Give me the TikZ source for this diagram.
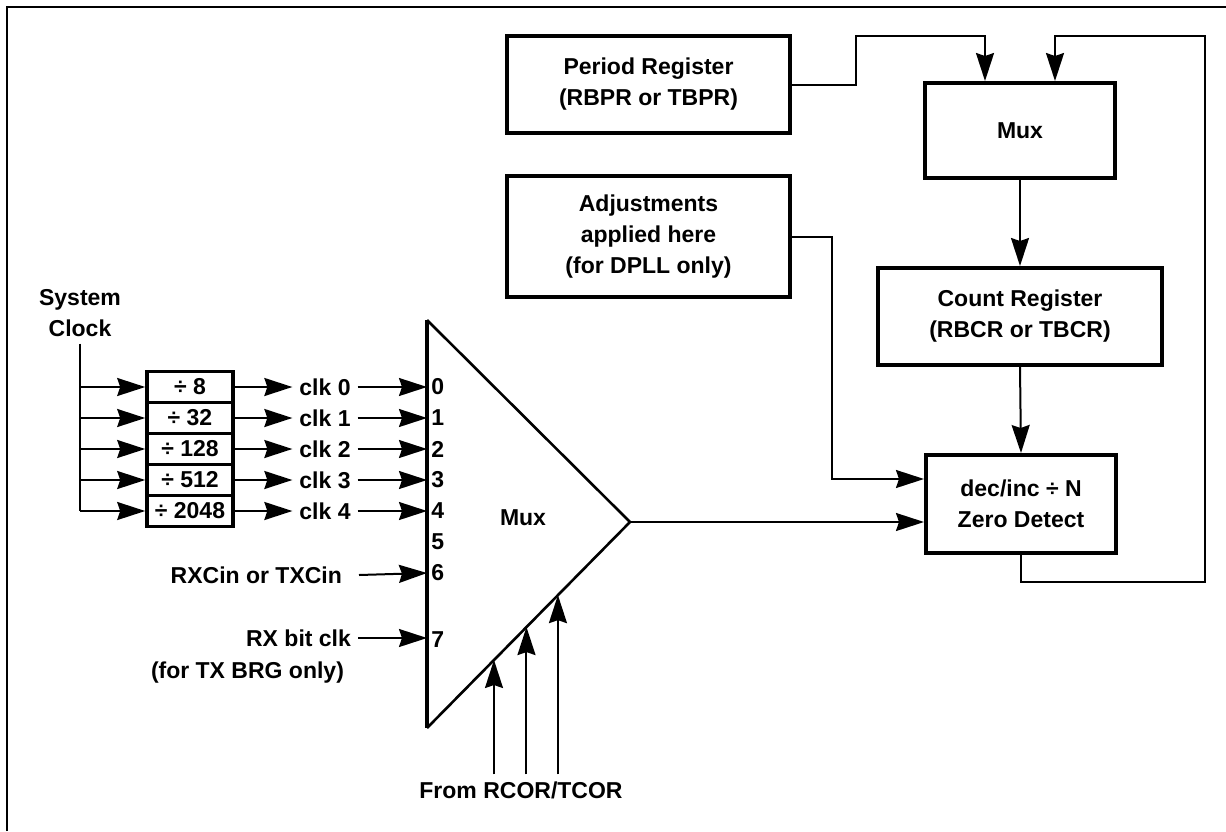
\documentclass[tikz,border=0pt]{standalone}
\usepackage{fontspec}
\setmainfont{Liberation Sans}
\usetikzlibrary{arrows.meta,calc}

\begin{document}
\begin{tikzpicture}[x=0.5pt, y=-0.5pt, >={Stealth[length=14pt,width=9pt,inset=1.5pt]},
  every node/.style={font=\fontsize{11.5}{15.5}\selectfont\bfseries, align=center},
  regbox/.style={draw, line width=2pt, inner sep=0pt},
  divbox/.style={draw, line width=1.8pt, minimum width=43pt, minimum height=15.5pt, inner sep=0pt},
  conn/.style={line width=1pt}]
  \useasboundingbox (0,0) rectangle (1226,831);
  \draw[line width=1pt] (7,831) -- (7,7) -- (1226,7);

  % register chain on the right
  \node[regbox, minimum width=141.5pt, minimum height=48.5pt] (per) at (648.5,84.5) {Period Register\\(RBPR or TBPR)};
  \node[regbox, minimum width=141.5pt, minimum height=60.5pt] (adj) at (648.5,236.5) {Adjustments\\applied here\\(for DPLL only)};
  \node[regbox, minimum width=95pt, minimum height=47.5pt] (tmux) at (1020,130.5) {Mux};
  \node[regbox, minimum width=142pt, minimum height=48.5pt] (cnt) at (1020,316.5) {Count Register\\(RBCR or TBCR)};
  \node[regbox, minimum width=95pt, minimum height=49pt] (zero) at (1021,504) {dec/inc ÷ N\\Zero Detect};

  \draw[conn,->] (per.east) -| (856,36) -| ([xshift=-17.5pt]tmux.north);
  \draw[conn,->] (tmux.south) -- (cnt.north);
  \draw[conn,->] (cnt.south) -- (zero.north);
  \draw[conn,->] (zero.south) -- ++(0,27) -| (1205,36) -| ([xshift=17.5pt]tmux.north);
  \coordinate (adjbend) at (832,236.5);
  \draw[conn,->] (adj.east) -- (adjbend) |- ([yshift=12.5pt]zero.west);

  % clock select mux
  \coordinate (mtl) at (427,320);
  \coordinate (mbl) at (427,728);
  \coordinate (tip) at (630,522);
  \draw[line width=1.3pt, line join=miter] (mtl) -- (tip) -- (mbl);
  \draw[line width=1.8pt] (mtl) -- (mbl);
  \node (mux) at (523,518) {Mux};
  \draw[conn,->] (tip) -- (tip -| zero.west);

  \foreach \i in {0,...,6} {
    \coordinate (in\i) at (427,{387+31*\i});
    \node[anchor=west, inner sep=1pt] (n\i) at (429,{387+31*\i}) {\i};
  }
  \coordinate (in7) at (427,638);
  \node[anchor=west, inner sep=1pt] (n7) at (429,640) {7};

  % prescalers
  \node (sysclk) at (80,313) {System\\Clock};
  \foreach \v [count=\i from 0] in {8,32,128,512,2048} {
    \node[divbox] (d\i) at (190,{387+31*\i}) {÷ \v};
    \node (clk\i) at (325,{387+31*\i}) {clk \i};
    \draw[conn,->] (sysclk.south |- d\i.west) -- (d\i.west);
    \draw[conn,->] (d\i.east) -- (clk\i.west);
    \draw[conn,->] (clk\i.east) -- (in\i);
  }
  \draw[conn] (sysclk.south) -- (sysclk.south |- d4.west);

  \node[anchor=east] (rxc) at (349,575) {RXCin or TXCin};
  \draw[conn,->] ([xshift=5pt]rxc.east) -- (in6);
  \node[anchor=east] (rxbit) at (358,638) {RX bit clk};
  \node[anchor=east] (brg) at (351,673) {(for TX BRG only)};
  \draw[conn,->] (rxbit.east) -- (in7);

  \node (src) at (521,790) {From RCOR/TCOR};
  \foreach \f [count=\i] in {0.33,0.49,0.645} {
    \coordinate (b\i) at ($(mbl)!\f!(tip)$);
    \draw[conn,->] (b\i |- src.north) -- (b\i);
  }
\end{tikzpicture}
\end{document}
